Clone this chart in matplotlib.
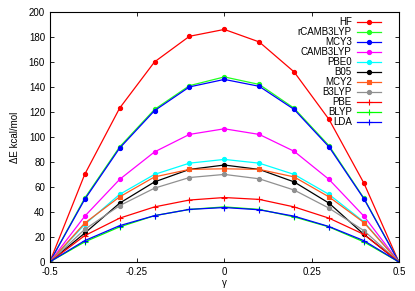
import matplotlib.pyplot as plt

gamma = [-0.5, -0.4, -0.3, -0.2, -0.1, 0.0, 0.1, 0.2, 0.3, 0.4, 0.5]

names = ["HF", "rCAMB3LYP", "MCY3", "CAMB3LYP", "PBE0", "B05", "MCY2",
         "B3LYP", "PBE", "BLYP", "LDA"]

hf = [0, 70, 123, 160, 180.5, 186, 176, 152, 114, 63, 0]
rcamb3lyp = [0, 51, 92, 122, 141, 148, 142, 123, 93, 51, 0]
mcy3 = [0, 50, 91, 121, 140, 146, 140.5, 122, 92, 50.5, 0]
camb3lyp = [0, 36.5, 66, 88, 102, 106.5, 102, 88.5, 66, 36.6, 0]
pbe0 = [0, 30, 54, 70, 79, 82, 79, 70, 54, 32, 0]
b05 = [0, 23, 47, 64, 74, 77.5, 74, 64, 47, 22, 0]
mcy2 = [0, 31, 52, 68, 74, 74.5, 74, 68, 52, 31.5, 0]
b3lyp = [0, 26, 45, 59, 67.5, 70, 66.5, 57.5, 43, 25, 0]
pbe = [0, 21, 35, 44, 49.5, 51.5, 50, 44, 35, 22, 0]
blyp = [0, 16, 28, 37, 42, 44, 42, 36, 28, 16, 0]
lda = [0, 17, 29, 37, 42, 43.5, 41.7, 36.6, 28.3, 17, 0]

series = [hf, rcamb3lyp, mcy3, camb3lyp, pbe0, b05, mcy2, b3lyp, pbe, blyp, lda]
colors = ["#ff0000", "#20ff20", "#0000ff", "#ff00ff", "#00ffff", "#000000",
          "#ff5a1e", "#909090", "#ff0000", "#00ff00", "#0000ff"]
markers = ["o", "o", "o", "o", "o", "o", "s", "o", "+", "+", "+"]

plt.rcParams['font.family'] = ['Liberation Sans', 'DejaVu Sans']

fig = plt.figure(figsize=(4.15, 2.91), dpi=100)
ax = fig.add_axes([0.12, 0.1, 0.841, 0.859])

for name, vals, c, m in zip(names, series, colors, markers):
    ax.plot(gamma, vals, color=c, marker=m, markersize=3 if m != "+" else 4,
            linewidth=0.9, markeredgewidth=0.8, label=name)

ax.set_xlim(-0.5, 0.5)
ax.set_ylim(0, 200)
ax.set_xticks([-0.5, -0.25, 0, 0.25, 0.5])
ax.set_xticklabels(["-0.5", "-0.25", "0", "0.25", "0.5"])
ax.set_yticks(range(0, 201, 20))
ax.tick_params(direction="in", top=True, right=True, labelsize=7, length=3, width=0.6)
for s in ax.spines.values():
    s.set_linewidth(0.8)
ax.set_xlabel("γ", fontsize=7, labelpad=1)
ax.set_ylabel("ΔE kcal/mol", fontsize=7, labelpad=6)

ax.legend(loc="upper right", bbox_to_anchor=(0.968, 1.005), frameon=False,
          markerfirst=False, fontsize=7, handlelength=2.5, labelspacing=0.0,
          borderaxespad=0.3, handletextpad=0.5)

fig.savefig("out.png", dpi=100)
